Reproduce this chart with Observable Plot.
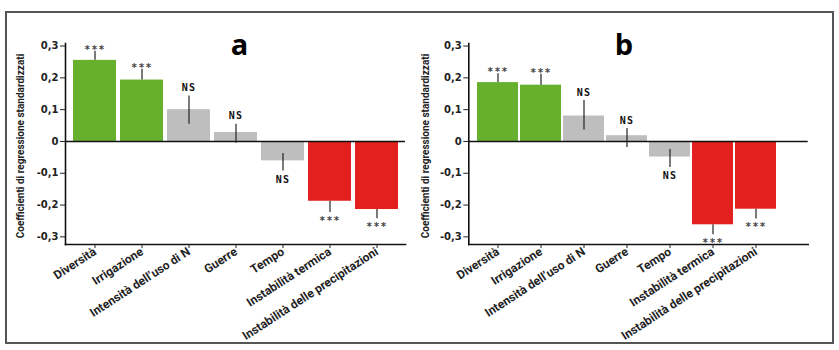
<!DOCTYPE html>
<html>
<head>
<meta charset="utf-8">
<script src="https://cdn.jsdelivr.net/npm/d3@7"></script>
<script src="https://cdn.jsdelivr.net/npm/@observablehq/plot@0.6"></script>
<style>
  html, body { margin: 0; padding: 0; background: #fff; }
  #wrap { position: relative; width: 839px; height: 350px; overflow: hidden; background: #fff; }
  #border { position: absolute; left: 5px; top: 11px; width: 829px; height: 333px; box-sizing: border-box;
            border: 2px solid #555; z-index: 5; pointer-events: none; }
  .panel { position: absolute; top: 0; }
  g[font-family="DejaVu Sans Mono"] text { letter-spacing: 1.2px; }
</style>
</head>
<body>
<div id="wrap">
  <div id="border"></div>
  <div class="panel" id="pa" style="left:0px"></div>
  <div class="panel" id="pb" style="left:420px"></div>
</div>
<script>
// ---- data ----
const categories = ["Diversità", "Irrigazione", "Intensità dell’uso di N", "Guerre", "Tempo", "Instabilità termica", "Instabilità delle precipitazioni"];
const effect = ["pos", "pos", "ns", "ns", "ns", "neg", "neg"];
const sigLabels = ["***", "***", "NS", "NS", "NS", "***", "***"];

const valuesA = [0.255, 0.193, 0.100, 0.028, -0.061, -0.188, -0.214];
const errLoA  = [0.255, 0.193, 0.054, -0.006, -0.093, -0.223, -0.243];
const errHiA  = [0.284, 0.227, 0.143, 0.054, -0.038, -0.188, -0.214];

const valuesB = [0.185, 0.177, 0.080, 0.018, -0.049, -0.262, -0.213];
const errLoB  = [0.185, 0.177, 0.036, -0.019, -0.082, -0.293, -0.244];
const errHiB  = [0.213, 0.211, 0.129, 0.041, -0.025, -0.262, -0.213];

const yTicks = [-0.3, -0.2, -0.1, 0, 0.1, 0.2, 0.3];
const yTickLabels = ["-0,3", "-0,2", "-0,1", "0", "0,1", "0,2", "0,3"];
const yLabel = "Coefficienti di regressione standardizzati";
const panelTitles = ["a", "b"];

const effectDomain = ["pos", "ns", "neg"];
const effectColors = ["#66b02e", "#bebebe", "#e3201e"];

function rows(values, lo, hi) {
  return categories.map((c, i) => ({cat: c, v: values[i], lo: lo[i], hi: hi[i], eff: effect[i], sig: sigLabels[i]}));
}

function panel(data, title, opts) {
  const tickLabel = d => yTickLabels[yTicks.findIndex(t => Math.abs(t - d) < 1e-9)];
  const above = data.filter(d => d.v > 0), below = data.filter(d => d.v <= 0);
  const sigFont = {fontFamily: "DejaVu Sans Mono", fontWeight: "bold"};
  return Plot.plot({
    width: opts.width, height: 350,
    marginLeft: opts.ml, marginRight: opts.mr, marginTop: 43, marginBottom: 106,
    style: {background: "transparent", overflow: "visible", fontFamily: "Open Sans"},
    x: {type: "band", domain: categories, range: opts.xr, padding: opts.pad, axis: null},
    y: {domain: [-0.324, 0.308], axis: null},
    color: {domain: effectDomain, range: effectColors},
    marks: [
      Plot.barY(data, {x: "cat", y: "v", fill: "eff"}),
      Plot.ruleY([0], {stroke: "#111", strokeWidth: 1.6}),
      Plot.ruleX(data, {x: "cat", y1: "lo", y2: "hi", stroke: "#222", strokeWidth: 1.2}),
      Plot.frame({anchor: "left", stroke: "#111", strokeWidth: 1.6}),
      Plot.frame({anchor: "bottom", stroke: "#111", strokeWidth: 1.6}),
      Plot.axisY({ticks: yTicks, tickFormat: tickLabel, tickSize: 5, tickPadding: 2, label: null,
                  fontFamily: "DejaVu Sans", fontWeight: "bold", fontSize: 10, fill: "#222", stroke: "#222"}),
      Plot.axisX({tickRotate: -33, tickSize: 4, tickPadding: 2, label: null,
                  fontFamily: "Liberation Sans Narrow, Roboto, sans-serif", fontWeight: "bold", fontSize: 12, fill: "#222", stroke: "#222"}),
      Plot.text(above.filter(d => d.sig === "***"), {x: "cat", y: "hi", text: "sig", dy: -1.6, fontSize: 10, fill: "#444", ...sigFont}),
      Plot.text(below.filter(d => d.sig === "***"), {x: "cat", y: "lo", text: "sig", dy: 8.2, fontSize: 10, fill: "#444", ...sigFont}),
      Plot.text(above.filter(d => d.sig === "NS"), {x: "cat", y: "hi", text: "sig", dy: -8, fontSize: 10, fill: "#111", ...sigFont}),
      Plot.text(below.filter(d => d.sig === "NS"), {x: "cat", y: "lo", text: "sig", dy: 8.4, fontSize: 10, fill: "#111", ...sigFont}),
      Plot.text([title], {frameAnchor: "top", dx: opts.tdx, dy: -9, fontSize: 29, fontWeight: "bold", fontFamily: "Open Sans", fill: "#000"}),
      Plot.text([yLabel], {frameAnchor: "left", textAnchor: "middle", rotate: -90, dx: opts.ldx, dy: 2, fontSize: 10, fontWeight: "bold",
                  fontFamily: "Liberation Sans Narrow, Roboto, sans-serif", fill: "#222"})
    ]
  });
}

document.getElementById("pa").appendChild(panel(rows(valuesA, errLoA, errHiA), panelTitles[0],
  {width: 420, ml: 65, mr: 15, xr: [68.5, 402.2], pad: 0.09, tdx: 4, ldx: -44.3}));
document.getElementById("pb").appendChild(panel(rows(valuesB, errLoB, errHiB), panelTitles[1],
  {width: 419, ml: 48.3, mr: 31.3, xr: [52.8, 359.5], pad: 0.05, tdx: -14.7, ldx: -43.3}));
</script>
</body>
</html>
